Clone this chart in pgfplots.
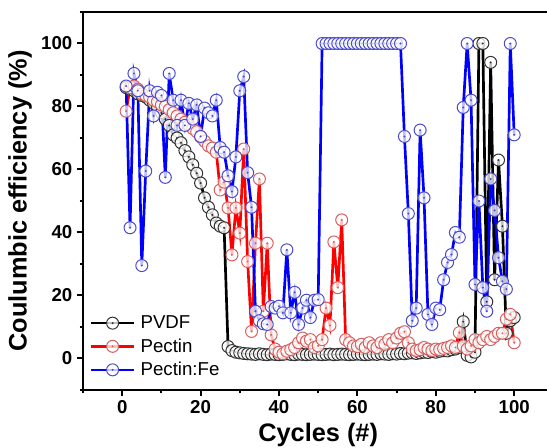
\documentclass[border=0pt]{standalone}
\usepackage{pgfplots}
\pgfplotsset{compat=1.18}
\usepackage{pgfplotstable}
\usepackage{fontspec}
\setmainfont{Liberation Sans}

\definecolor{pvdfm}{RGB}{50,50,50}
\definecolor{pecm}{RGB}{215,95,95}
\definecolor{fem}{RGB}{75,75,205}

\pgfdeclareplotmark{codot}{%
 \pgfpathcircle{\pgfpointorigin}{\pgfplotmarksize}\pgfusepathqfillstroke
 \pgfpathcircle{\pgfpointorigin}{0.3pt}\pgfusepathqstroke}

\pgfplotstableread{
c v
1 86
2 85.5
3 85
4 84
5 83.5
6 83
7 82
8 81
9 80
10 78
11 76
12 74
13 71
14 70
15 68.5
16 66
17 64
18 61.5
19 58.8
20 55.7
21 51
22 48
23 45.6
24 43
25 42
26 41.5
27 3.8
28 2.5
29 2
30 1.8
31 1.6
32 1.5
33 1.4
34 1.3
35 1.5
36 1.3
37 1.2
38 1.4
39 1.3
40 1.2
41 1.3
42 1.5
43 1.3
44 1.2
45 1.4
46 1.3
47 1.2
48 1.3
49 1.4
50 1.3
51 1.2
52 1.3
53 1.4
54 1.2
55 1.3
56 1.4
57 1.3
58 1.2
59 1.3
60 1.4
61 1.3
62 1.2
63 1.3
64 1.4
65 1.3
66 1.5
67 1.4
68 1.3
69 1.5
70 1.4
71 1.6
72 1.5
73 1.7
74 1.8
75 1.6
76 1.8
77 2
78 1.9
79 2.2
80 2
81 2.3
82 2.5
83 2.4
84 2.8
85 3
86 3.5
87 11.7
88 1
89 0.5
90 2
91 100
92 100
93 18
94 94
95 25
96 63
97 42
98 8
99 12
100 13
}\pvdf

\pgfplotstableread{
c v
1 78.5
2 86
3 86.5
4 85.5
5 84
6 83.5
7 83
8 82
9 81.5
10 80.5
11 80
12 79
13 78
14 77
15 76
16 75
17 74
18 73
19 72
20 70.3
21 69
22 67.5
23 66.8
24 65.5
25 53.5
26 56
27 47.8
28 32.9
29 47.8
30 39.8
31 66.5
32 30.8
33 8.6
34 36.6
35 57
36 15
37 36.6
38 7.5
39 3
40 2
41 1.5
42 2.3
43 2.8
44 3.5
45 5
46 6.5
47 5.5
48 6
49 3.5
50 4
51 6
52 16
53 10.5
54 37
55 22.5
56 44
57 6
58 5
59 4
60 3.8
61 4.5
62 3.5
63 5
64 4
65 3.5
66 5
67 4.5
68 6
69 5
70 6.5
71 8
72 8.5
73 5
74 3
75 2.5
76 2.8
77 3.5
78 3
79 2.5
80 3
81 2.8
82 3.2
83 3.5
84 4
85 3.5
86 8.2
87 4
88 3
89 4
90 6
91 5
92 6
93 7
94 6
95 7
96 8
97 8
98 12.5
99 14
100 5
}\pectin

\pgfplotstableread{
c v
1 86.5
2 41.5
3 90.5
4 85
5 29.5
6 59.5
7 85
8 77
9 84.5
10 83.5
11 57.5
12 90.5
13 82
14 74
15 82
16 74
17 81
18 76
19 80.5
20 70.5
21 79.5
22 78
23 77
24 82
25 67
26 65.5
27 58
28 53
29 64
30 85
31 89.5
32 59
33 48
34 15
35 12
36 11
37 10.8
38 16.5
39 16
40 16.6
41 14.5
42 34.5
43 14.5
44 21
45 10.8
46 16
47 18.5
48 13
49 18.5
50 18.7
51 100
52 100
53 100
54 100
55 100
56 100
57 100
58 100
59 100
60 100
61 100
62 100
63 100
64 100
65 100
66 100
67 100
68 100
69 100
70 100
71 100
72 70.5
73 46
74 12
75 16
76 72.5
77 51
78 14
79 10.8
80 16
81 15.5
82 25
83 30.5
84 33
85 40
86 38.5
87 79.7
88 100
89 82
90 23.5
91 50
92 22.5
93 15
94 57
95 47
96 32
97 24.5
98 22
99 100
100 71
}\fe

\begin{document}
\begin{tikzpicture}
\useasboundingbox (0,0) rectangle (410.25pt,335.25pt);
\begin{axis}[
 at={(62.25pt,42.75pt)}, anchor=south west,
 scale only axis, width=352.8pt, height=283.5pt,
 xmin=-10, xmax=110, ymin=-10, ymax=110,
 axis line style={line width=2pt},
 tick align=outside, xtick pos=bottom, ytick pos=left,
 major tick length=4.5pt, minor tick length=2.5pt,
 xtick={0,20,...,100}, minor xtick={-10,10,...,110},
 ytick={0,20,...,100}, minor ytick={-10,10,...,110},
 tick style={line width=1.5pt, black},
 ticklabel style={font=\bfseries\fontsize{14}{16}\selectfont},
 /pgf/number format/assume math mode=true,
 xlabel={Cycles (\#)}, ylabel={Coulumbic efficiency (\%)},
 label style={font=\bfseries\fontsize{19}{22}\selectfont},
 legend cell align=left,
 legend style={draw=none, fill=none, at={(axis cs:-8.3,-7)}, anchor=south west,
   font=\fontsize{14}{16}\selectfont, inner sep=0pt, row sep=2pt,
   nodes={inner xsep=4pt}},
 legend image code/.code={\draw[#1,mark repeat=2,mark phase=2] plot coordinates {(0pt,0pt) (16pt,0pt) (32pt,0pt)};},
]
\addplot[black, line width=2pt, mark=codot, mark size=4.5pt,
  mark options={solid, draw=pvdfm, fill=white, fill opacity=0.75, line width=0.75pt}]
  table[x=c,y=v] {\pvdf};
\addlegendentry{PVDF}
\addplot[red, line width=2pt, mark=codot, mark size=4.5pt,
  mark options={solid, draw=pecm, fill=white, fill opacity=0.75, line width=0.75pt}]
  table[x=c,y=v] {\pectin};
\addlegendentry{Pectin}
\addplot[blue, line width=2pt, mark=codot, mark size=4.5pt,
  mark options={solid, draw=fem, fill=white, fill opacity=0.75, line width=0.75pt}]
  table[x=c,y=v] {\fe};
\addlegendentry{Pectin:Fe}
\end{axis}
\end{tikzpicture}
\end{document}
